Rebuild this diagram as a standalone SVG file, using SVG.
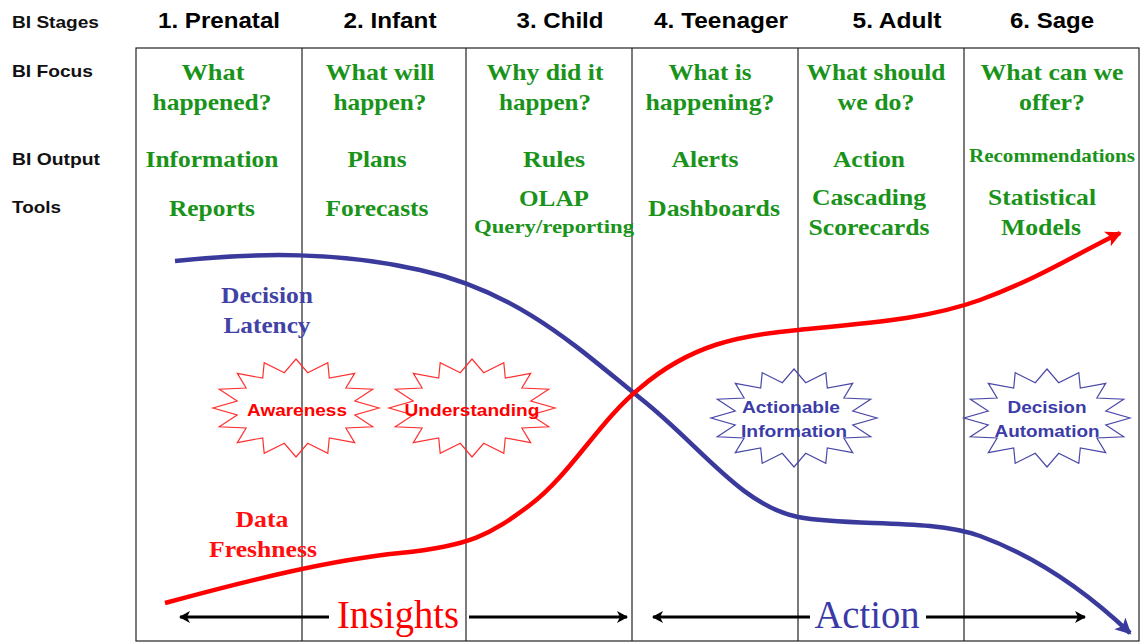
<svg xmlns="http://www.w3.org/2000/svg" xmlns:xlink="http://www.w3.org/1999/xlink" width="1141" height="643" viewBox="0 0 1141 643">
<style>
.lbl{font-family:"Liberation Sans",Arial,sans-serif;font-weight:bold;font-size:17px;fill:#111}
.hd{font-family:"Liberation Sans",Arial,sans-serif;font-weight:bold;font-size:22px;fill:#000;text-anchor:middle}
.g{font-family:"Liberation Serif","Times New Roman",serif;font-weight:bold;font-size:23px;fill:#1a931a;text-anchor:middle}
.gs{font-size:19px}
.bl{font-family:"Liberation Serif","Times New Roman",serif;font-weight:bold;font-size:23px;fill:#4242a6;text-anchor:middle}
.rd{font-family:"Liberation Serif","Times New Roman",serif;font-weight:bold;font-size:23px;fill:#ff1010;text-anchor:middle}
.bt{font-family:"Liberation Sans",Arial,sans-serif;font-weight:bold;font-size:17px;text-anchor:middle}
.big{font-family:"Liberation Serif","Times New Roman",serif;font-size:40px;text-anchor:middle}
.grid{stroke:#222;stroke-width:1.2;fill:none}
.burstR{fill:none;stroke:#ff3030;stroke-width:1.2}
.burstB{fill:none;stroke:#4848a8;stroke-width:1.2}
.arr{stroke:#000;stroke-width:3;fill:none;marker-end:url(#ak)}
</style>
<defs>
<polygon id="burst" points="0,-49 11.7,-35.3 31.8,-45.3 33.3,-29.9 58.7,-34.6 49.9,-20 76.7,-18.8 58.8,-7 83,0 58.8,7 76.7,18.8 49.9,20 58.7,34.6 33.3,29.9 31.8,45.3 11.7,35.3 0,49 -11.7,35.3 -31.8,45.3 -33.3,29.9 -58.7,34.6 -49.9,20 -76.7,18.8 -58.8,7 -83,0 -58.8,-7 -76.7,-18.8 -49.9,-20 -58.7,-34.6 -33.3,-29.9 -31.8,-45.3 -11.7,-35.3"/>
<marker id="ak" markerUnits="userSpaceOnUse" markerWidth="14" markerHeight="14" refX="10" refY="6" orient="auto"><path d="M0,0 L11,6 L0,12 L3,6 Z" fill="#000"/></marker>
<marker id="ar" markerUnits="userSpaceOnUse" markerWidth="20" markerHeight="20" refX="14" refY="8" orient="auto"><path d="M0,0 L16,8 L0,16 L4,8 Z" fill="#ff0000"/></marker>
<marker id="ab" markerUnits="userSpaceOnUse" markerWidth="20" markerHeight="20" refX="14" refY="8" orient="auto"><path d="M0,0 L16,8 L0,16 L4,8 Z" fill="#3a3a9c"/></marker>
</defs>
<rect width="1141" height="643" fill="#fff"/>

<g id="frame">
<rect x="136" y="48" width="1003" height="593" class="grid"/>
<line x1="302" y1="48" x2="302" y2="641" class="grid"/>
<line x1="466" y1="48" x2="466" y2="641" class="grid"/>
<line x1="632" y1="48" x2="632" y2="641" class="grid"/>
<line x1="798" y1="48" x2="798" y2="641" class="grid"/>
<line x1="964" y1="48" x2="964" y2="641" class="grid"/>
</g>

<g id="row-labels">
<text class="lbl" x="12" y="28" textLength="87" lengthAdjust="spacingAndGlyphs">BI Stages</text>
<text class="lbl" x="12" y="77" textLength="81" lengthAdjust="spacingAndGlyphs">BI Focus</text>
<text class="lbl" x="12" y="165" textLength="88" lengthAdjust="spacingAndGlyphs">BI Output</text>
<text class="lbl" x="12" y="213" textLength="49" lengthAdjust="spacingAndGlyphs">Tools</text>
</g>

<g id="stage-prenatal">
<text class="hd" x="219" y="28" textLength="122" lengthAdjust="spacingAndGlyphs">1. Prenatal</text>
<text class="g" x="213" y="80" textLength="63" lengthAdjust="spacingAndGlyphs">What</text>
<text class="g" x="212" y="110" textLength="119" lengthAdjust="spacingAndGlyphs">happened?</text>
<text class="g" x="212" y="167" textLength="133" lengthAdjust="spacingAndGlyphs">Information</text>
<text class="g" x="212" y="216" textLength="86" lengthAdjust="spacingAndGlyphs">Reports</text>
</g>

<g id="stage-infant">
<text class="hd" x="390" y="28" textLength="93" lengthAdjust="spacingAndGlyphs">2. Infant</text>
<text class="g" x="380" y="80" textLength="109" lengthAdjust="spacingAndGlyphs">What will</text>
<text class="g" x="380" y="110" textLength="93" lengthAdjust="spacingAndGlyphs">happen?</text>
<text class="g" x="377" y="167" textLength="59" lengthAdjust="spacingAndGlyphs">Plans</text>
<text class="g" x="377" y="216" textLength="103" lengthAdjust="spacingAndGlyphs">Forecasts</text>
</g>

<g id="stage-child">
<text class="hd" x="560" y="28" textLength="87" lengthAdjust="spacingAndGlyphs">3. Child</text>
<text class="g" x="545" y="80" textLength="117" lengthAdjust="spacingAndGlyphs">Why did it</text>
<text class="g" x="545" y="110" textLength="92" lengthAdjust="spacingAndGlyphs">happen?</text>
<text class="g" x="554" y="167" textLength="62" lengthAdjust="spacingAndGlyphs">Rules</text>
<text class="g" x="554" y="206" textLength="70" lengthAdjust="spacingAndGlyphs">OLAP</text>
<text class="g gs" x="554" y="233" textLength="160" lengthAdjust="spacingAndGlyphs">Query/reporting</text>
</g>

<g id="stage-teenager">
<text class="hd" x="721" y="28" textLength="134" lengthAdjust="spacingAndGlyphs">4. Teenager</text>
<text class="g" x="710" y="80" textLength="83" lengthAdjust="spacingAndGlyphs">What is</text>
<text class="g" x="710" y="110" textLength="129" lengthAdjust="spacingAndGlyphs">happening?</text>
<text class="g" x="705" y="167" textLength="67" lengthAdjust="spacingAndGlyphs">Alerts</text>
<text class="g" x="714" y="216" textLength="132" lengthAdjust="spacingAndGlyphs">Dashboards</text>
</g>

<g id="stage-adult">
<text class="hd" x="897" y="28" textLength="89" lengthAdjust="spacingAndGlyphs">5. Adult</text>
<text class="g" x="876" y="80" textLength="139" lengthAdjust="spacingAndGlyphs">What should</text>
<text class="g" x="876" y="110" textLength="77" lengthAdjust="spacingAndGlyphs">we do?</text>
<text class="g" x="869" y="167" textLength="72" lengthAdjust="spacingAndGlyphs">Action</text>
<text class="g" x="869" y="205" textLength="114" lengthAdjust="spacingAndGlyphs">Cascading</text>
<text class="g" x="869" y="235" textLength="121" lengthAdjust="spacingAndGlyphs">Scorecards</text>
</g>

<g id="stage-sage">
<text class="hd" x="1052" y="28" textLength="84" lengthAdjust="spacingAndGlyphs">6. Sage</text>
<text class="g" x="1052" y="80" textLength="143" lengthAdjust="spacingAndGlyphs">What can we</text>
<text class="g" x="1052" y="110" textLength="66" lengthAdjust="spacingAndGlyphs">offer?</text>
<text class="g gs" x="1052" y="162" textLength="166" lengthAdjust="spacingAndGlyphs">Recommendations</text>
<text class="g" x="1042" y="205" textLength="108" lengthAdjust="spacingAndGlyphs">Statistical</text>
<text class="g" x="1041" y="235" textLength="80" lengthAdjust="spacingAndGlyphs">Models</text>
</g>

<g id="connectors">
<path d="M175,261 C260,252 340,252 420,270 C520,292 580,350 640,398 C700,445 740,505 798,517 C850,527 930,518 980,536 C1040,558 1090,595 1130,633" fill="none" stroke="#3a3a9c" stroke-width="4.5" marker-end="url(#ab)"/>
<path d="M165,603 C250,580 330,560 400,553 C470,546 490,535 530,505 C570,475 600,420 640,388 C690,345 740,335 798,330 C880,322 930,318 980,300 C1040,278 1080,252 1120,233" fill="none" stroke="#ff0000" stroke-width="4.5" marker-end="url(#ar)"/>
<line x1="329" y1="617" x2="180" y2="617" class="arr"/>
<line x1="469" y1="617" x2="627" y2="617" class="arr"/>
<line x1="810" y1="617" x2="653" y2="617" class="arr"/>
<line x1="926" y1="617" x2="1085" y2="617" class="arr"/>
</g>

<g id="latency-label">
<text class="bl" x="267" y="303" textLength="92" lengthAdjust="spacingAndGlyphs">Decision</text>
<text class="bl" x="267" y="333" textLength="87" lengthAdjust="spacingAndGlyphs">Latency</text>
</g>
<g id="freshness-label">
<text class="rd" x="262" y="527" textLength="53" lengthAdjust="spacingAndGlyphs">Data</text>
<text class="rd" x="263" y="557" textLength="108" lengthAdjust="spacingAndGlyphs">Freshness</text>
</g>

<g id="burst-awareness">
<use xlink:href="#burst" href="#burst" x="296" y="408" class="burstR"/>
<text class="bt" x="297" y="416" fill="#ff0000" textLength="100" lengthAdjust="spacingAndGlyphs">Awareness</text>
</g>
<g id="burst-understanding">
<use xlink:href="#burst" href="#burst" x="472" y="408" class="burstR"/>
<text class="bt" x="472" y="416" fill="#ff0000" textLength="135" lengthAdjust="spacingAndGlyphs">Understanding</text>
</g>
<g id="burst-actionable">
<use xlink:href="#burst" href="#burst" x="794" y="418" class="burstB"/>
<text class="bt" x="791" y="413" fill="#3c3ca8" textLength="98" lengthAdjust="spacingAndGlyphs">Actionable</text>
<text class="bt" x="794" y="437" fill="#3c3ca8" textLength="106" lengthAdjust="spacingAndGlyphs">Information</text>
</g>
<g id="burst-automation">
<use xlink:href="#burst" href="#burst" x="1047" y="418" class="burstB"/>
<text class="bt" x="1047" y="413" fill="#3c3ca8" textLength="79" lengthAdjust="spacingAndGlyphs">Decision</text>
<text class="bt" x="1047" y="437" fill="#3c3ca8" textLength="105" lengthAdjust="spacingAndGlyphs">Automation</text>
</g>

<g id="insights-label">
<text class="big" x="398" y="628" fill="#ff0000" textLength="122" lengthAdjust="spacingAndGlyphs">Insights</text>
</g>
<g id="action-label">
<text class="big" x="867" y="628" fill="#3a3aa6" textLength="105" lengthAdjust="spacingAndGlyphs">Action</text>
</g>
</svg>
